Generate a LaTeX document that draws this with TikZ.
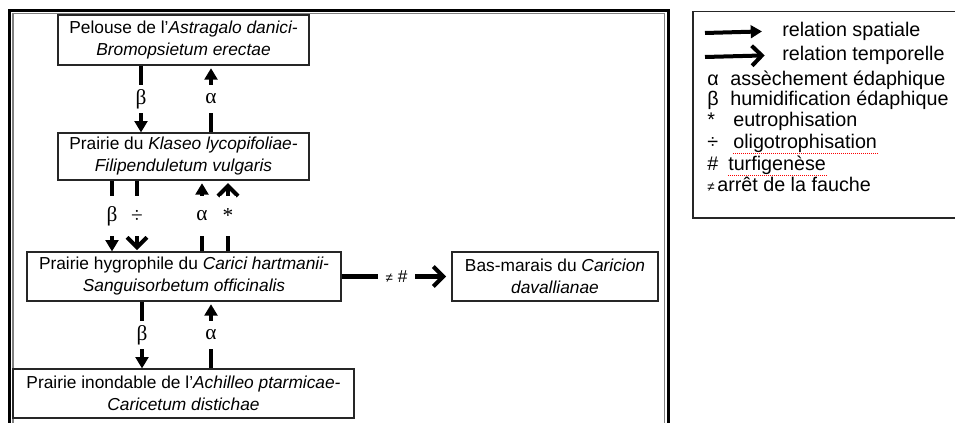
\documentclass[tikz,border=0pt]{standalone}
\usepackage{fontspec}
\setmainfont{Liberation Sans}
\newfontfamily\grserif{Liberation Serif}
\usetikzlibrary{arrows.meta}

\begin{document}
\begin{tikzpicture}[x=0.75pt,y=-0.75pt,
  box/.style={draw=black!85,line width=0.8pt,align=center,inner sep=0pt,font=\fontsize{13}{16.5}\selectfont},
  spatial/.style={line width=3pt,-{Triangle[length=8.5pt,width=9.5pt]}},
  temporal/.style={line width=3pt,-{Straight Barb[length=7.5pt,width=15pt,line width=3pt]}},
  lab/.style={fill=white,inner xsep=2pt,inner ysep=0pt,minimum height=21pt,font=\grserif\fontsize{16}{16}\selectfont},
  leg/.style={anchor=mid west,inner sep=0pt,font=\fontsize{14.8}{17}\selectfont}]
\useasboundingbox (0,0) rectangle (955,423);
% cadre
\draw[line width=1.9pt] (9.5,10.5) rectangle (668.5,450);
\draw[line width=1.4pt,gray] (13,13.5) rectangle (664.5,450);

\node[box,minimum width=188.25pt,minimum height=37.5pt] (astr) at (183.5,40)
  {Pelouse de l'\textit{Astragalo danici-}\\\textit{Bromopsietum erectae}};
\node[box,minimum width=188.25pt,minimum height=35.25pt] (klas) at (183.5,156.5)
  {Prairie du \textit{Klaseo lycopifoliae-}\\\textit{Filipenduletum vulgaris}};
\node[box,minimum width=235.5pt,minimum height=36.75pt] (hygr) at (184,276.5)
  {Prairie hygrophile du \textit{Carici hartmanii-}\\\textit{Sanguisorbetum officinalis}};
\node[box,minimum width=255.75pt,minimum height=36.75pt] (inon) at (183.5,393.5)
  {Prairie inondable de l’\textit{Achilleo ptarmicae-}\\\textit{Caricetum distichae}};
\node[box,minimum width=154.5pt,minimum height=36.75pt] (basm) at (555,276.5)
  {Bas-marais du \textit{Caricion}\\\textit{davallianae}};

% colonnes des fleches
\foreach \x in {112,137,141,142,202,211,228}
  \coordinate (c\x) at (\x,0);

\draw[spatial] (astr.south -| c141) -- node[lab] (b1) {β} (klas.north -| c141);
\draw[spatial,shorten >=2pt] (klas.north -| c211) -- node[lab] (a1) {α} (astr.south -| c211);
\draw[spatial] (klas.south -| c112) -- node[lab,minimum height=30pt] (b2) {β} (hygr.north -| c112);
\draw[temporal,shorten >=1pt] (klas.south -| c137) -- node[lab,minimum height=30pt] (d2) {÷} (hygr.north -| c137);
\draw[spatial,shorten >=2pt] (hygr.north -| c202) -- node[lab,minimum height=30pt] (a2) {α} (klas.south -| c202);
\draw[temporal,shorten >=2pt] (hygr.north -| c228) -- node[lab,minimum height=30pt] (e2) {*} (klas.south -| c228);
\draw[spatial] (hygr.south -| c142) -- node[lab] (b3) {β} (inon.north -| c142);
\draw[spatial,shorten >=2pt] (inon.north -| c211) -- node[lab] (a3) {α} (hygr.south -| c211);
\draw[temporal,line width=3.5pt,shorten >=4pt] (hygr.east) -- node[lab,inner xsep=6pt,font=\fontsize{13}{13}\selectfont] (nf) {{\fontsize{10}{10}\selectfont ≠}\ \#} (basm.west);

% legende
\draw[line width=0.8pt,black!85] (693,11.7) rectangle (962,218);
\node[leg] (lspa) at (782,33) {relation spatiale};
\node[leg] (ltem) at (782,57) {relation temporelle};
\coordinate (s0) at (705,33);
\coordinate (t0) at (705,57);
\draw[spatial] (s0) -- ([xshift=-15pt]lspa.west);
\draw[temporal] (t0) -- ([xshift=-13pt]ltem.west);
\foreach \sym/\txt/\tx/\ty [count=\i] in {α/assèchement édaphique/730/82,
    β/humidification édaphique/730/102, */eutrophisation/733/123,
    ÷/oligotrophisation/733/145, \#/turfigenèse/728/167,
    {\fontsize{10}{10}\selectfont ≠}/arrêt de la fauche/717/188}{
  \node[leg] (sym\i) at (707,\ty) {\sym};
  \node[leg] (txt\i) at (\tx,\ty) {\txt};
}
\draw[red,densely dotted,line width=0.5pt] (txt4.south west) -- (txt4.south east);
\draw[red,densely dotted,line width=0.5pt] (txt5.south west) -- (txt5.south east);
\end{tikzpicture}
\end{document}
